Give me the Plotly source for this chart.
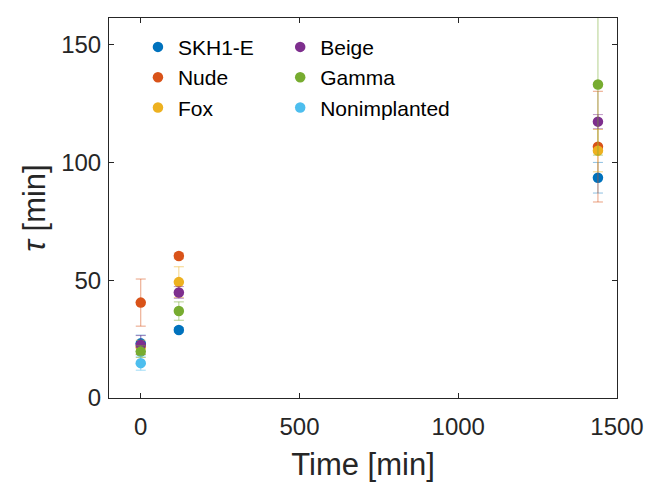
import plotly.graph_objects as go

time_min = [0, 120, 1440]
series_names = ["SKH1-E", "Nude", "Fox", "Beige", "Gamma", "Nonimplanted"]
skh1_tau = [23.2, 28.9, 93.5]
skh1_err = [3.5, 1.0, 6.5]
nude_tau = [40.5, 60.3, 106.7]
nude_err = [10.0, 1.2, 23.5]
fox_tau = [21.5, 49.2, 105.0]
fox_err = [3.0, 6.5, 9.0]
beige_tau = [22.5, 44.8, 117.3]
beige_err = [4.0, 2.5, 3.0]
gamma_tau = [19.7, 36.9, 133.1]
gamma_err = [2.5, 3.9, 30.0]
nonimpl_time = [0]
nonimpl_tau = [14.8]
nonimpl_err = [3.0]

colors = ["#0072BD", "#D95319", "#EDB120", "#7E2F8E", "#77AC30", "#4DBEEE"]
err_colors = ["rgba(0,114,189,0.45)", "rgba(217,83,25,0.55)", "rgba(237,177,32,0.55)",
              "rgba(126,47,142,0.5)", "rgba(119,172,48,0.55)", "rgba(77,190,238,0.55)"]

data = [
    (time_min, skh1_tau, skh1_err),
    (time_min, nude_tau, nude_err),
    (time_min, fox_tau, fox_err),
    (time_min, beige_tau, beige_err),
    (time_min, gamma_tau, gamma_err),
    (nonimpl_time, nonimpl_tau, nonimpl_err),
]

FONT = "Liberation Sans, Arial, sans-serif"
fig = go.Figure()
for i, (name, (x, y, e)) in enumerate(zip(series_names, data)):
    fig.add_trace(go.Scatter(
        x=x, y=y, name=name, mode="markers",
        marker=dict(color=colors[i], size=10.5, symbol="circle"),
        error_y=dict(type="data", array=e, visible=True, color=err_colors[i],
                     thickness=1, width=5),
        legend="legend" if i < 3 else "legend2",
        cliponaxis=True,
    ))

axis_common = dict(
    showline=True, linecolor="#262626", linewidth=1, mirror="ticks",
    ticks="inside", ticklen=5, tickcolor="#262626", showgrid=False, zeroline=False,
    tickfont=dict(family=FONT, size=24, color="#262626"),
)
fig.update_xaxes(range=[-100, 1500], tickvals=[0, 500, 1000, 1500], ticklabelstandoff=7,
                 title=dict(text="Time [min]", font=dict(family=FONT, size=31, color="#262626"), standoff=14),
                 **axis_common)
fig.update_yaxes(range=[0, 161.3], tickvals=[0, 50, 100, 150], ticklabelstandoff=2,
                 title=dict(text="<i>τ</i> [min]", font=dict(family=FONT, size=31, color="#262626"), standoff=6),
                 **axis_common)

leg_common = dict(bgcolor="rgba(0,0,0,0)", font=dict(family=FONT, size=21, color="#000000"),
                  xanchor="left", yanchor="top", orientation="v", tracegroupgap=0)
fig.update_layout(
    width=657, height=486,
    margin=dict(l=109, r=40, t=18, b=88),
    paper_bgcolor="white", plot_bgcolor="white",
    legend=dict(x=0.057, y=0.977, **leg_common),
    legend2=dict(x=0.337, y=0.977, **leg_common),
)
fig.write_html("out.html")
